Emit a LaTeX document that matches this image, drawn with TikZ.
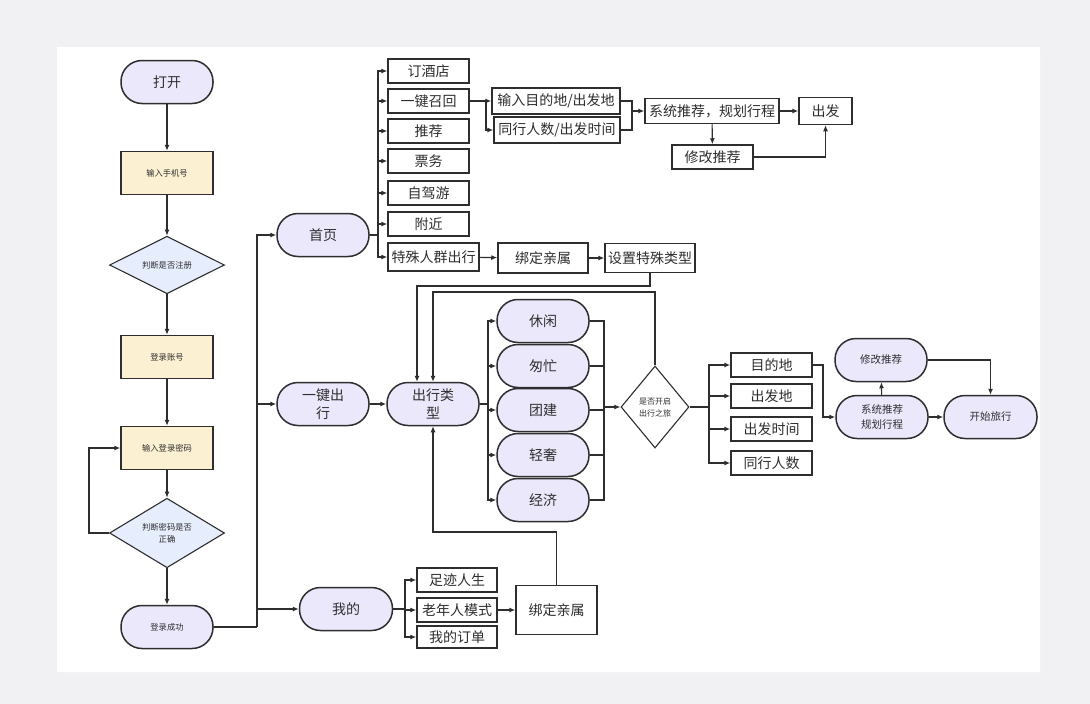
\documentclass[tikz,border=0pt]{standalone}
\usepackage{fontspec}
\setmainfont{Noto Sans CJK SC}
\usepackage{tikz}
\usetikzlibrary{arrows.meta,positioning,calc,shapes.geometric}
\definecolor{lav}{HTML}{ECE8FC}
\definecolor{sand}{HTML}{FBF0D2}
\definecolor{skyb}{HTML}{E6EDFD}
\definecolor{ink}{HTML}{2E2E2E}
\definecolor{bgc}{HTML}{F1F1F4}
\tikzstyle{pill}=[draw=ink,line width=1.5pt,fill=lav,rounded corners=21pt,minimum width=92pt,minimum height=43pt,inner sep=1pt,align=center,text=ink,font=\fontsize{14}{18}\selectfont]
\tikzstyle{smallpill}=[pill,font=\fontsize{10.5}{15}\selectfont]
\tikzstyle{tinypill}=[pill,font=\fontsize{8.3}{11}\selectfont]
\tikzstyle{inbox}=[draw=ink,line width=1.5pt,fill=sand,minimum width=92pt,minimum height=43pt,inner sep=1pt,text=ink,font=\fontsize{8.3}{11}\selectfont]
\tikzstyle{choice}=[diamond,draw=ink,line width=1.1pt,fill=skyb,minimum width=115pt,minimum height=55pt,inner sep=0pt,align=center,text=ink,font=\fontsize{8.3}{12}\selectfont]
\tikzstyle{item}=[draw=ink,line width=1.5pt,fill=white,minimum width=81pt,minimum height=24pt,inner sep=1pt,text=ink,font=\fontsize{14}{16}\selectfont]
\tikzstyle{arr}=[-{Latex[length=6pt,width=5pt]},line width=1.1pt,draw=ink]
\tikzstyle{wire}=[line width=1.1pt,draw=ink]

\begin{document}
\begin{tikzpicture}[x=1pt,y=-1pt]
\useasboundingbox (0,0) rectangle (1090,704);
\fill[bgc] (0,0) rectangle (1090,704);
\fill[black!5] (58,49) rectangle (1042,675);
\fill[white] (57,47) rectangle (1040,672);

% login column
\node[pill] (open) at (167,82) {打开};
\node[inbox] (phone) at (167,173) {输入手机号};
\node[choice] (reg) at (167,265) {判断是否注册};
\node[inbox] (acct) at (167,357) {登录账号};
\node[inbox] (pwd) at (167,448) {输入登录密码};
\node[choice] (chk) at (167,533) {判断密码是否\\正确};
\node[tinypill] (ok) at (167,627) {登录成功};

% main pages
\node[pill] (home) at (323,235) {首页};
\node[pill] (go) at (323,404) {一键出\\行};
\node[pill,minimum width=93pt] (mine) at (346,609) {我的};

% home menu
\node[item] (hotel) at (428.5,71) {订酒店};
\node[item] (recall) at (428.5,101) {一键召回};
\node[item] (recom) at (428.5,131) {推荐};
\node[item] (ticket) at (428.5,161) {票务};
\node[item] (drive) at (428.5,193) {自驾游};
\node[item] (near) at (428.5,224) {附近};
\node[item,minimum width=91pt,minimum height=28pt] (special) at (433.5,257) {特殊人群出行};
\node[item,minimum width=128pt,minimum height=26pt] (dfrom) at (556,101) {输入目的地/出发地};
\node[item,minimum width=126pt,minimum height=26pt] (mates) at (557,130) {同行人数/出发时间};
\node[item,minimum width=134pt,minimum height=25pt] (plan) at (712,111) {系统推荐，规划行程};
\node[item,minimum width=53pt,minimum height=27pt] (depart) at (825.5,111) {出发};
\node[item] (modify) at (712.5,157) {修改推荐};
\node[item,minimum width=90pt,minimum height=30pt] (bindA) at (543,258) {绑定亲属};
\node[item,minimum width=90pt,minimum height=29pt] (settype) at (650,258) {设置特殊类型};

% trip types
\node[pill] (kind) at (433,404) {出行类\\型};
\node[pill] (relax) at (543,321) {休闲};
\node[pill] (rush) at (543,366) {匆忙};
\node[pill] (team) at (543,410) {团建};
\node[pill] (lux) at (543,455) {轻奢};
\node[pill] (eco) at (543,500) {经济};
\node[choice,fill=white,minimum width=68pt,minimum height=82pt,font=\fontsize{8}{12}\selectfont] (start) at (655,407) {是否开启\\出行之旅};
\node[item] (dest) at (771.5,365) {目的地};
\node[item] (orig) at (771.5,396) {出发地};
\node[item] (dtime) at (771.5,429) {出发时间};
\node[item] (party) at (771.5,463) {同行人数};
\node[smallpill] (sysplan) at (882,417) {系统推荐\\规划行程};
\node[smallpill] (tune) at (881,360) {修改推荐};
\node[smallpill,minimum width=93pt] (begin) at (990.5,417) {开始旅行};

% my page
\node[item,minimum width=80pt] (trail) at (457,580) {足迹人生};
\node[item,minimum width=80pt] (elder) at (457,610) {老年人模式};
\node[item,minimum width=80pt,minimum height=22pt] (order) at (457,637) {我的订单};
\node[item,minimum width=81pt,minimum height=49pt] (bindB) at (556.5,610) {绑定亲属};

\coordinate (lp) at (89,533);
\coordinate (tr1) at (257,627);
\coordinate (tr2) at (378,235);
\coordinate (tr3) at (486,101);
\coordinate (tr4) at (632,111);
\coordinate (tr5) at (488,404);
\coordinate (tr6) at (604,407);
\coordinate (tr7) at (709,407);
\coordinate (tr8) at (405,609);
\coordinate (c1) at (417,286);
\coordinate (c2) at (433,292);
\coordinate (c3) at (823,365);
\coordinate (c4) at (0,532);

\draw[arr] (open) -- (phone);
\draw[arr] (phone) -- (reg);
\draw[arr] (reg) -- (acct);
\draw[arr] (acct) -- (pwd);
\draw[arr] (pwd) -- (chk);
\draw[arr] (chk) -- (ok);
\draw[arr] (chk.west) -- (lp) |- (pwd.west);

\draw[wire] (ok.east) -- (tr1);
\draw[arr] (tr1) |- (home.west);
\draw[arr] (tr1 |- go.west) -- (go.west);
\draw[arr] (tr1 |- mine.west) -- (mine.west);

\draw[wire] (home.east) -- (tr2);
\foreach \n in {hotel,recall,recom,ticket,drive,near,special}
  \draw[arr] (tr2) |- (\n.west);
\draw[arr] (recall.east) -- (dfrom.west);
\draw[arr] (tr3) |- (mates.west);
\draw[wire] (dfrom.east) -| (tr4);
\draw[wire] (mates.east) -| (tr4);
\draw[arr] (tr4) -- (plan.west);
\draw[arr] (plan) -- (depart);
\draw[arr] (plan) -- (modify);
\draw[arr] (modify.east) -| (depart.south);
\draw[arr] (special) -- (bindA);
\draw[arr] (bindA) -- (settype);
\draw[arr] (settype.south) |- (c1) -- (c1 |- kind.north);
\draw[arr] (start.north) |- (c2) -- (kind.north);

\draw[arr] (go) -- (kind);
\draw[wire] (kind.east) -- (tr5);
\foreach \n in {relax,rush,team,lux,eco}
  \draw[arr] (tr5) |- (\n.west);
\foreach \n in {relax,rush,team,lux,eco}
  \draw[wire] (\n.east) -| (tr6);
\draw[arr] (tr6) -- (start.west);

\draw[wire] (start.east) -- (tr7);
\foreach \n in {dest,orig,dtime,party}
  \draw[arr] (tr7) |- (\n.west);
\draw[arr] (dest.east) -- (c3) |- (sysplan.west);
\draw[arr] (sysplan) -- (tune);
\draw[arr] (sysplan) -- (begin);
\draw[arr] (tune.east) -| (begin.north);

\draw[wire] (mine.east) -- (tr8);
\foreach \n in {trail,elder,order}
  \draw[arr] (tr8) |- (\n.west);
\draw[arr] (elder) -- (bindB);
\draw[arr] (bindB.north) -- (bindB.north |- c4) -| (kind.south);
\end{tikzpicture}
\end{document}
